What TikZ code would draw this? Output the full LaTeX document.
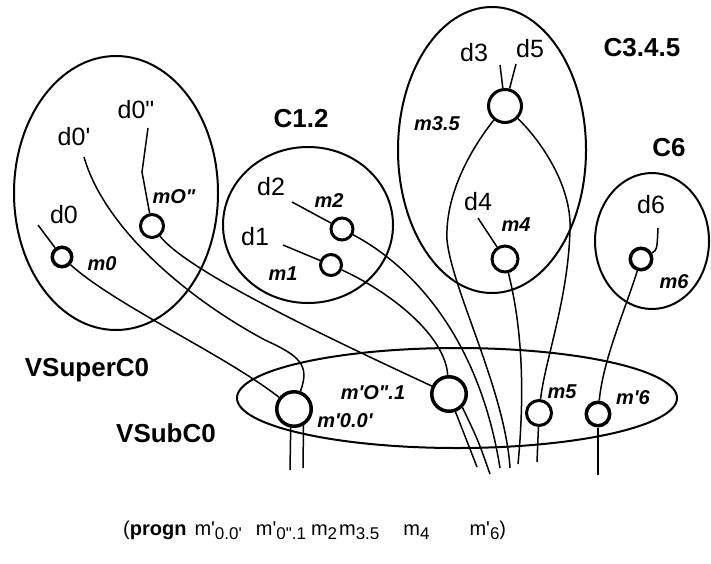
\documentclass[tikz,border=0pt]{standalone}
\usepackage{fontspec}
\newfontfamily\labfont{Liberation Sans}
\newcommand{\lowidx}[1]{\raisebox{-4pt}{\fontsize{17}{17}\selectfont #1}}

\begin{document}
\begin{tikzpicture}[x=1pt,y=-1pt,
    region/.style={line width=2pt},
    wire/.style={line width=1.5pt},
    merge/.style={circle,draw,line width=3pt,inner sep=0pt},
    dlab/.style={font=\labfont\fontsize{25}{25}\selectfont},
    mlab/.style={font=\labfont\bfseries\itshape\fontsize{20}{20}\selectfont},
    clab/.style={font=\labfont\bfseries\fontsize{26}{26}\selectfont}]
    \useasboundingbox (0,0) rectangle (711,563);

    % Regions
    \draw[region] (116,193) ellipse [x radius=102, y radius=137];
    \draw[region] (308,225) ellipse [x radius=85, y radius=78];
    \draw[region] (492,150) ellipse [x radius=94, y radius=143];
    \draw[region] (652,241) ellipse [x radius=57, y radius=68];
    \draw[region] (457,398) ellipse [x radius=220, y radius=50];

    % Region names
    \node[clab] (vsuper) at (87,370) {VSuperC0};
    \node[clab] (vsub) at (166,433) {VSubC0};
    \node[clab] (c12) at (301,119) {C1.2};
    \node[clab] (c345) at (642,48) {C3.4.5};
    \node[clab] (c6) at (669,148) {C6};

    % Data labels
    \node[dlab] (d0) at (64,215) {d0};
    \node[dlab] (d0p) at (74,137) {d0'};
    \node[dlab] (d0pp) at (136,110) {d0"};
    \node[dlab] (d1) at (255,237) {d1};
    \node[dlab] (d2) at (271,187) {d2};
    \node[dlab] (d3) at (474,53) {d3};
    \node[dlab] (d4) at (478,202) {d4};
    \node[dlab] (d5) at (530,49) {d5};
    \node[dlab] (d6) at (651,205) {d6};

    % Merge points
    \node[merge,line width=3.5pt,minimum size=19.5pt] (m0) at (62,257) {};
    \node[merge,minimum size=23pt] (m0pp) at (152,226) {};
    \node[merge,minimum size=21pt] (m1) at (331,265) {};
    \node[merge,minimum size=22pt] (m2) at (342,229) {};
    \node[merge,minimum size=33pt] (m35) at (505,106) {};
    \node[merge,minimum size=26pt] (m4) at (505,259) {};
    \node[merge,line width=3.5pt,minimum size=21.5pt] (m6) at (641,259) {};
    \node[merge,line width=3.5pt,minimum size=34.5pt] (mp00) at (294,409) {};
    \node[merge,line width=3.5pt,minimum size=34.5pt] (mp01) at (449,394) {};
    \node[merge,minimum size=25pt] (m5) at (539,413) {};
    \node[merge,line width=3.5pt,minimum size=23.5pt] (mp6) at (598,414) {};

    % Merge names
    \node[mlab] (lm0) at (102,264) {m0};
    \node[mlab] (lm0pp) at (174,197) {mO"};
    \node[mlab] (lm1) at (283,274) {m1};
    \node[mlab] (lm2) at (329,201) {m2};
    \node[mlab] (lm35) at (437,124) {m3.5};
    \node[mlab] (lm4) at (516,225) {m4};
    \node[mlab] (lm6) at (674,282) {m6};
    \node[mlab] (lmp01) at (373,393) {m'O".1};
    \node[mlab] (lmp00) at (345,421) {m'0.0'};
    \node[mlab] (lm5) at (562,392) {m5};
    \node[mlab] (lmp6) at (633,398) {m'6};

    % Free wire ends
    \coordinate (e0) at (38,225);
    \coordinate (e0p) at (84,157);
    \coordinate (e0pp) at (148,128);
    \coordinate (e1) at (283,245);
    \coordinate (e2) at (292,202);
    \coordinate (e3) at (500,65);
    \coordinate (e4) at (478,218);
    \coordinate (e5) at (516,64);
    \coordinate (e6) at (658,228);
    \coordinate (o00a) at (290,470);
    \coordinate (o00b) at (303,468);
    \coordinate (o01a) at (477,467);
    \coordinate (o01b) at (490,474);
    \coordinate (o2) at (500,468);
    \coordinate (o35) at (510,468);
    \coordinate (o4) at (518,464);
    \coordinate (o5) at (537,462);
    \coordinate (o6) at (598,475);

    % Inputs
    \draw[wire] (e0) -- (m0);
    \draw[wire] (e0pp) -- (142,172) -- (m0pp);
    \draw[wire] (e1) -- (m1);
    \draw[wire] (e2) -- (m2);
    \draw[wire] (e3) -- (m35);
    \draw[wire] (e5) -- (m35);
    \draw[wire] (e4) -- (m4);
    \draw[wire] (e6) .. controls (657,250) .. (m6);

    % Wires down to the sub-cluster
    \draw[wire] (m0) .. controls (115,305) and (225,355) .. (mp00);
    \draw[wire] (e0p) .. controls (105,230) and (190,300) .. (265,340)
      .. controls (300,356) and (310,365) .. (mp00);
    \draw[wire] (m0pp) .. controls (185,268) and (300,325) .. (mp01);
    \draw[wire] (m1) .. controls (390,292) and (445,335) .. (mp01);
    \draw[wire] (m2) .. controls (405,262) and (478,330) .. (o2);
    \draw[wire] (m35) .. controls (470,150) and (445,195) .. (447,240)
      .. controls (452,290) and (505,390) .. (o35);
    \draw[wire] (m35) .. controls (540,140) and (572,185) .. (570,230)
      .. controls (568,300) and (545,360) .. (m5);
    \draw[wire] (m4) .. controls (515,300) and (528,360) .. (o4);
    \draw[wire] (m6) .. controls (625,310) and (603,360) .. (mp6);

    % Outputs
    \draw[wire] (mp00.260) -- (o00a);
    \draw[wire] (mp00.300) -- (o00b);
    \draw[wire] (mp01.290) .. controls (466,440) .. (o01a);
    \draw[wire] (mp01.315) .. controls (478,440) .. (o01b);
    \draw[wire] (m5) -- (o5);
    \draw[wire] (mp6) -- (o6);

    % Resulting form
    \node[anchor=base west,inner sep=0pt,font=\labfont\fontsize{20}{20}\selectfont] (progn) at (123,535)
      {(\textbf{progn}\hspace{8pt}m'\lowidx{0.0'}\hspace{14pt}m'\lowidx{0".1}\hspace{5pt}m\lowidx{2}\hspace{2pt}m\lowidx{3.5}\hspace{24pt}m\lowidx{4}\hspace{40pt}m'\lowidx{6})};
\end{tikzpicture}
\end{document}
